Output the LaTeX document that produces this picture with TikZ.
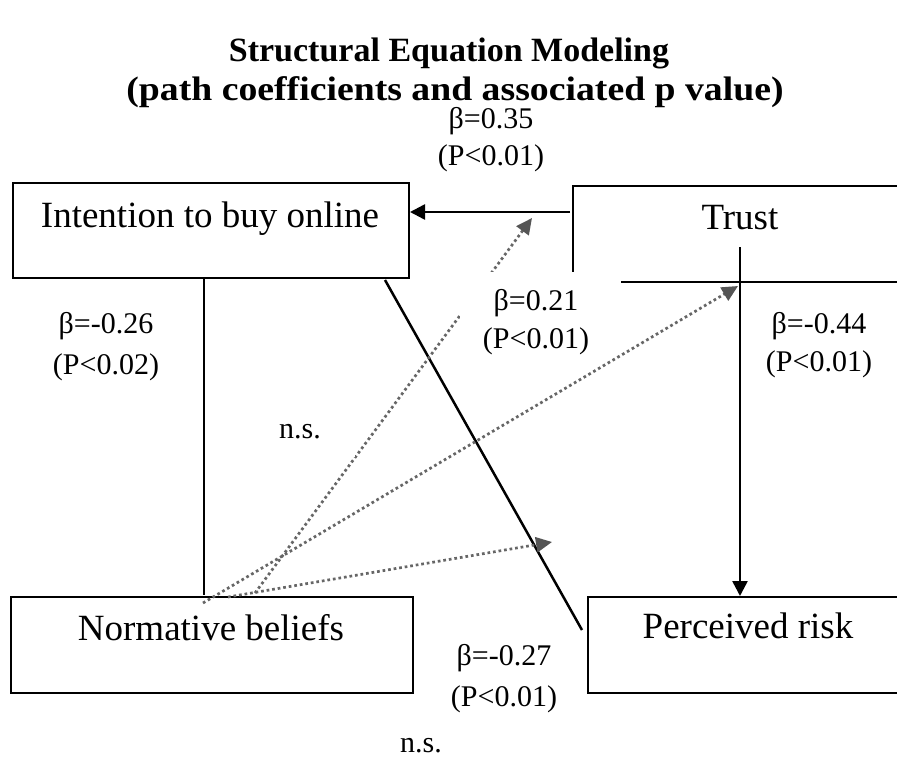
\documentclass[tikz,border=0pt]{standalone}
\usepackage{fontspec}
\setmainfont{Liberation Serif}
\usetikzlibrary{arrows.meta}
\definecolor{dotgray}{HTML}{666666}
\definecolor{tipgray}{HTML}{555555}
\begin{document}
\begin{tikzpicture}[x=1pt,y=-1pt,
  box/.style={draw=black,line width=2pt,inner sep=0pt},
  boxtext/.style={anchor=base,inner sep=0pt,font=\fontsize{37}{44}\selectfont},
  lab/.style={anchor=base,inner sep=0pt,font=\fontsize{30}{36}\selectfont},
  ttl/.style={anchor=base,inner sep=0pt,font=\fontsize{34}{40}\selectfont\bfseries},
  patch/.style={fill=white,draw=none,inner sep=0pt},
  solidline/.style={line width=2.5pt,black},
  solidarrow/.style={line width=2.5pt,black,-{Triangle[length=15pt,width=15pt]}},
  dotarrow/.style={line width=2.7pt,dotgray,dash pattern=on 2.7pt off 2.9pt,-{Triangle[length=16pt,width=15pt,color=tipgray]}}]
\useasboundingbox (0,0) rectangle (897,760);
\fill[white] (0,0) rectangle (897,760);

% title
\node[ttl] (t1) at (449,62) {Structural Equation Modeling};
\node[ttl] (t2) at (455,100) {\scalebox{1.11}[1]{(path coefficients and associated p value)}};

% boxes
\node[box,minimum width=396pt,minimum height=95pt] (int) at (211,230.5) {};
\node[box,minimum width=340pt,minimum height=96pt] (trust) at (743,234) {};
\node[box,minimum width=322pt,minimum height=96pt] (pr) at (749,645) {};
\node[box,minimum width=402pt,minimum height=96pt] (nb) at (212,645) {};

\node[boxtext] (intT) at (210,227) {Intention to buy online};
\node[boxtext] (trustT) at (740,229) {Trust};
\node[boxtext] (prT) at (748,638) {Perceived risk};
\node[boxtext] (nbT) at (211,640) {Normative beliefs};

% connector end points
\coordinate (trA) at (570,212);
\coordinate (intA) at (int.east |- trA);
\coordinate (trB) at (740,247);
\coordinate (prB) at (pr.north -| trB);
\coordinate (intC) at (204,278);
\coordinate (nbC) at (204,595);
\coordinate (intD) at (385,280);
\coordinate (prD) at (582,630);
\coordinate (nbA) at (203,603);
\coordinate (tipA) at (738,286);
\coordinate (nbB) at (255,593);
\coordinate (tipB) at (532,218);
\coordinate (nbE) at (228,597);
\coordinate (tipE) at (552,542);

% solid connectors
\draw[solidarrow] (trA) -- (intA);
\draw[solidarrow] (trB) -- (prB);
\draw[solidline] (intC) -- (nbC);
\draw[solidline] (intD) -- (prD);

% dotted connectors
\draw[dotarrow] (nbA) -- (tipA);
\draw[dotarrow] (nbB) -- (tipB);
\draw[dotarrow] (nbE) -- (tipE);

% white patches behind labels
\node[patch,minimum width=161pt,minimum height=80pt] (p21) at (540.5,312) {};
\node[patch,minimum width=100pt,minimum height=50pt] (pns) at (305,432) {};

% labels
\node[lab] (b35) at (491,128) {β=0.35};
\node[lab] (p35) at (491,165) {(P<0.01)};
\node[lab] (b21) at (536,310) {β=0.21};
\node[lab] (p21t) at (536,348) {(P<0.01)};
\node[lab] (b44) at (819,333) {β=-0.44};
\node[lab] (p44) at (819,371) {(P<0.01)};
\node[lab] (b26) at (106,333) {β=-0.26};
\node[lab] (p26) at (106,374) {(P<0.02)};
\node[lab] (ns1) at (300,438) {n.s.};
\node[lab] (b27) at (504,665) {β=-0.27};
\node[lab] (p27) at (504,706) {(P<0.01)};
\node[lab] (ns2) at (421,752) {n.s.};
\end{tikzpicture}
\end{document}
